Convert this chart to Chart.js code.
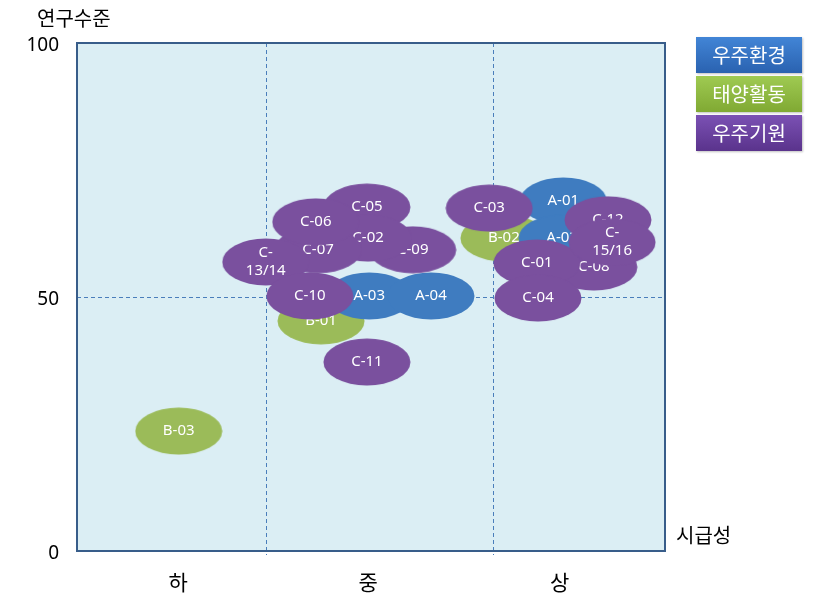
<!DOCTYPE html>
<html>
<head>
<meta charset="utf-8">
<script src="https://cdn.jsdelivr.net/npm/chart.js@4.4.1/dist/chart.umd.min.js"></script>
<style>
  body { margin: 0; background: #fff; }
  #wrap { position: relative; width: 820px; height: 606px; }
  #legend { position: absolute; left: 696px; top: 37px; }
  .lg {
    width: 106px; height: 36px; margin-bottom: 3px;
    color: #fff; font: 20px "Noto Sans CJK KR", sans-serif;
    line-height: 36px; text-align: center;
    box-shadow: 1px 1px 2px rgba(0,0,0,0.25);
  }
</style>
</head>
<body>
<div id="wrap">
  <canvas id="chart" width="820" height="606"></canvas>
  <div id="legend"></div>
</div>
<script>
// --- DATA ---
const groupNames = ["우주환경", "태양활동", "우주기원"];
const groupColors = ["#3F7CC0", "#9BBB59", "#7A509E"];
const legendGrad = [
  ["#4285d6", "#2a62b0"],
  ["#9fca52", "#80a933"],
  ["#7b51b4", "#5a338c"]
];

// listed bottom -> top (draw order)
const names = ["B-03", "B-01", "B-02",
  "A-03", "A-04", "A-01", "A-02",
  "C-05", "C-09", "C-02", "C-07", "C-06", "C-13/14", "C-10", "C-11",
  "C-03", "C-12", "C-08", "C-01", "C-15/16", "C-04"];
const groups = [1, 1, 1,
  0, 0, 0, 0,
  2, 2, 2, 2, 2, 2, 2, 2,
  2, 2, 2, 2, 2, 2];
const xs = [17.3, 41.5, 72.6,
  49.7, 60.2, 82.7, 82.5,
  49.3, 57.1, 49.5, 41.0, 40.6, 32.1, 39.6, 49.3,
  70.1, 90.3, 87.9, 78.2, 91.0, 78.4];
const ys = [23.6, 45.3, 61.6,
  50.2, 50.2, 68.9, 61.6,
  67.7, 59.3, 61.6, 59.3, 64.8, 56.9, 50.2, 37.2,
  67.5, 65.2, 55.9, 56.7, 60.8, 49.8];

const xLabels = ["하", "중", "상"];
const xLabelPos = [17.2, 49.5, 82.1];
const xDividers = [32.1, 70.7];
const yDivider = 50;

const FONT = '"Noto Sans", "Noto Sans CJK KR", sans-serif';

// --- LEGEND (html) ---
const legend = document.getElementById("legend");
groupNames.forEach((g, i) => {
  const d = document.createElement("div");
  d.className = "lg";
  d.textContent = g;
  d.style.background = `linear-gradient(${legendGrad[i][0]}, ${legendGrad[i][1]})`;
  legend.appendChild(d);
});

// ellipse marker per group
function ellipseMark(color) {
  const c = document.createElement("canvas");
  c.width = 88; c.height = 48;
  const g = c.getContext("2d");
  g.fillStyle = color;
  g.beginPath();
  g.ellipse(44, 24, 43.5, 23.5, 0, 0, Math.PI * 2);
  g.fill();
  return c;
}
const marks = groupColors.map(ellipseMark);

const datasets = names.map((n, i) => ({
  label: n,
  data: [{ x: xs[i], y: ys[i] }],
  pointStyle: marks[groups[i]],
  order: -i
}));

// --- PLUGIN: background, dashed dividers, labels, border, titles ---
const quadPlugin = {
  id: "quad",
  beforeDatasetsDraw(chart) {
    const { ctx, chartArea: a, scales } = chart;
    ctx.save();
    ctx.fillStyle = "#DBEEF4";
    ctx.fillRect(a.left, a.top, a.right - a.left, a.bottom - a.top);
    ctx.strokeStyle = "#4A7EBB";
    ctx.lineWidth = 1;
    ctx.setLineDash([4, 3]);
    ctx.beginPath();
    xDividers.forEach(v => {
      const px = Math.round(scales.x.getPixelForValue(v)) + 0.5;
      ctx.moveTo(px, a.top);
      ctx.lineTo(px, a.bottom + 4);
    });
    const py = Math.round(scales.y.getPixelForValue(yDivider)) + 0.5;
    ctx.moveTo(a.left, py);
    ctx.lineTo(a.right, py);
    ctx.stroke();
    ctx.restore();
  },
  afterDatasetDraw(chart, args) {
    const el = args.meta.data[0];
    if (!el) return;
    const ctx = chart.ctx;
    const txt = names[args.index];
    ctx.save();
    ctx.fillStyle = "#FFFFFF";
    ctx.font = "15px " + FONT;
    ctx.textAlign = "center";
    ctx.textBaseline = "middle";
    if (txt.includes("/")) {
      ctx.fillText("C-", el.x, el.y - 9);
      ctx.fillText(txt.slice(2), el.x, el.y + 9);
    } else {
      ctx.fillText(txt, el.x, el.y);
    }
    ctx.restore();
  },
  afterDraw(chart) {
    const { ctx, chartArea: a } = chart;
    ctx.save();
    ctx.strokeStyle = "#385D8A";
    ctx.lineWidth = 2;
    ctx.strokeRect(a.left, a.top, a.right - a.left, a.bottom - a.top);
    ctx.fillStyle = "#000";
    ctx.font = "20px " + FONT;
    ctx.textBaseline = "middle";
    ctx.textAlign = "left";
    ctx.fillText("연구수준", 37, 20);
    ctx.fillText("시급성", a.right + 11, 537);
    ctx.restore();
  }
};

new Chart(document.getElementById("chart"), {
  type: "scatter",
  data: { datasets },
  options: {
    responsive: false,
    animation: false,
    layout: { padding: { left: 0, top: 43, right: 155, bottom: 0 } },
    plugins: { legend: { display: false }, tooltip: { enabled: false } },
    scales: {
      x: {
        type: "linear", min: 0, max: 100,
        grid: { display: false },
        border: { display: false },
        afterFit: s => { s.height = 55; },
        afterBuildTicks: s => { s.ticks = xLabelPos.map(v => ({ value: v })); },
        ticks: {
          autoSkip: false, maxRotation: 0, padding: 12,
          color: "#000", font: { size: 21, family: FONT },
          callback: (v, i) => xLabels[i]
        }
      },
      y: {
        min: 0, max: 100,
        grid: { display: false },
        border: { display: false },
        afterFit: s => { s.width = 77; },
        ticks: { stepSize: 50, padding: 10, labelOffset: 3, color: "#000", font: { size: 19, family: FONT } }
      }
    }
  },
  plugins: [quadPlugin]
});
</script>
</body>
</html>
